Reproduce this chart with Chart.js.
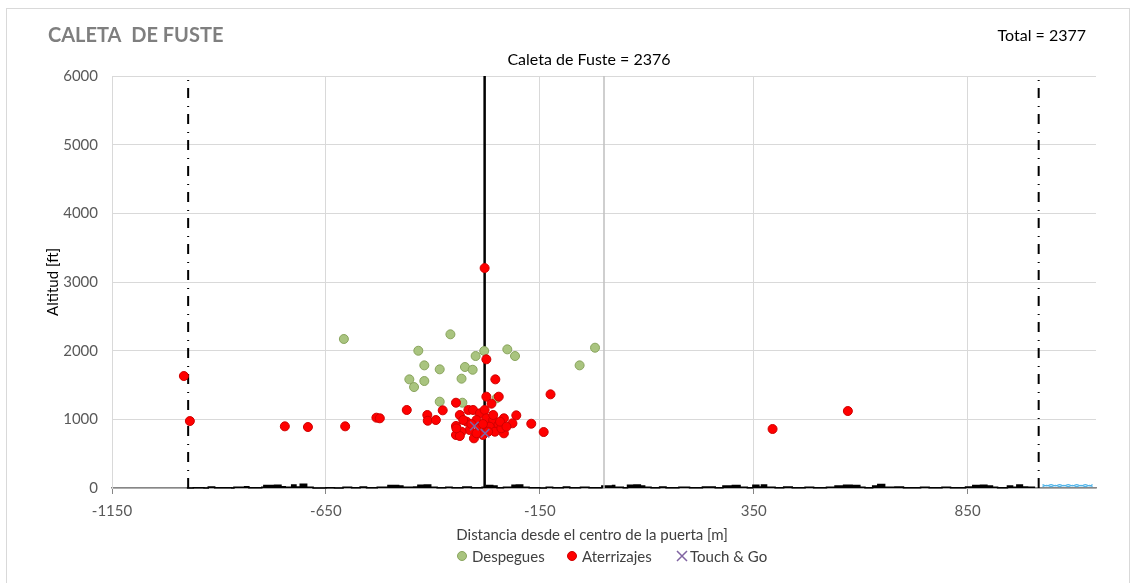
<!DOCTYPE html>
<html>
<head>
<meta charset="utf-8">
<script src="https://cdn.jsdelivr.net/npm/chart.js@4.4.1/dist/chart.umd.min.js"></script>
<style>
  html, body { margin: 0; padding: 0; background: #fff; }
  #wrap { width: 1134px; height: 583px; position: relative; }
</style>
</head>
<body>
<div id="wrap"><canvas id="chart" width="1134" height="583"></canvas></div>
<script>
// tick labels
const xTicks = [-1150, -650, -150, 350, 850];
const yTicks = [0, 1000, 2000, 3000, 4000, 5000, 6000];

// despegues (green)
const despeguesX = [-608, -359, -434, -420, -384, -455, -444, -420, -333, -325, -307, -300, -280, -226, -208, -384, -331, -57, -21, -251];
const despeguesY = [2170, 2238, 1999, 1786, 1728, 1582, 1470, 1558, 1592, 1762, 1722, 1922, 1995, 2019, 1922, 1257, 1242, 1786, 2043, 1306];

// aterrizajes (red)
const aterrizajesX = [-982, -968, -746, -692, -605, -532, -461, 394, 570, -279, -275, -254, -125, -275, -246, -263, -346, -377, -413, -524, -412, -393, -205, -214, -170, -141, -234, -234,
  -346, -337, -317, -306, -290, -279, -321, -298, -275, -259, -247, -267, -290, -314, -333, -346, -337, -304, -283, -255, -240, -345, -329, -310, -283, -259, -243, -271, -298, -228];
const aterrizajesY = [1631, 975, 898, 888, 898, 1024, 1136, 859, 1121, 3203, 1874, 1582, 1364, 1330, 1330, 1228, 1242, 1131, 1063, 1015, 980, 990, 1058, 942, 936, 815, 1015, 796,
  903, 1063, 1136, 1136, 1087, 1136, 966, 990, 1015, 990, 917, 893, 869, 845, 820, 772, 757, 723, 772, 820, 869, 869, 990, 932, 932, 1063, 966, 820, 796, 893];

// touch & go
const touchGoX = [-303, -278];
const touchGoY = [903, 796];

// reference lines
const gateLineX = -279;
const centerLineX = 0;
const limitLinesX = [-972, 1016];

// terrain profile
const terrainX = [-975, -960, -935, -925, -910, -870, -865, -840, -830, -800, -795, -770, -755, -745, -730, -720, -710, -695, -680, -650, -630, -610, -590, -570, -555, -530, -505, -480, -470, -445, -435, -420, -405, -390, -370, -355, -330, -310, -285, -275, -260, -250, -235, -215, -205, -190, -175, -150, -135, -120, -95, -80, -55, -35, -5, 20, 25, 45, 55, 70, 85, 95, 110, 130, 145, 175, 200, 230, 260, 278, 300, 318, 335, 348, 362, 368, 380, 400, 420, 440, 470, 490, 520, 540, 560, 580, 598, 610, 628, 640, 656, 680, 700, 740, 760, 790, 810, 845, 862, 880, 895, 908, 920, 943, 955, 965, 978, 990, 1006];
const terrainY = [0, 5, 0, 15, 5, 0, 12, 18, 5, 10, 35, 40, 20, 10, 45, 15, 55, 10, 0, 5, 0, 12, 5, 15, 5, 10, 35, 30, 10, 15, 40, 45, 10, 5, 12, 5, 15, 5, 10, 35, 30, 5, 10, 40, 45, 10, 5, 0, 10, 5, 15, 5, 10, 5, 30, 35, 10, 5, 40, 45, 30, 10, 5, 15, 5, 10, 5, 15, 5, 30, 35, 10, 5, 40, 15, 45, 10, 5, 15, 5, 12, 5, 10, 30, 40, 35, 10, 5, 30, 50, 10, 15, 5, 12, 5, 10, 5, 15, 35, 40, 30, 10, 5, 30, 10, 45, 15, 10, 0];

// water (sea)
const waterX = [1025, 1035, 1045, 1055, 1065, 1075, 1085, 1095, 1105, 1115, 1125, 1135, 1142];
const waterTopY = [50, 30, 50, 30, 50, 30, 50, 30, 50, 30, 50, 30, 50];
const waterLowY = [20, 40, 20, 40, 20, 40, 20, 40, 20, 40, 20, 40, 20];

const pts = (xs, ys) => xs.map((x, i) => ({ x: x, y: ys[i] }));
const vline = x => [{ x: x, y: 0 }, { x: x, y: 6000 }];

Chart.defaults.font.family = 'Lato, "Open Sans", sans-serif';

const textPlugin = {
  id: 'texts',
  beforeDraw(chart) {
    const ctx = chart.ctx;
    ctx.save();
    ctx.fillStyle = '#fff';
    ctx.fillRect(0, 0, chart.width, chart.height);
    ctx.strokeStyle = '#d9d9d9';
    ctx.lineWidth = 1;
    ctx.strokeRect(6.5, 8.5, 1123, 620);
    ctx.restore();
  },
  afterDraw(chart) {
    const ctx = chart.ctx;
    ctx.save();
    ctx.textBaseline = 'middle';
    ctx.fillStyle = '#7f7f7f';
    ctx.font = 'bold 20px Lato, sans-serif';
    ctx.textAlign = 'left';
    ctx.fillText('CALETA  DE FUSTE', 48, 36, 176);
    ctx.fillStyle = '#000';
    ctx.font = '16px Lato, sans-serif';
    ctx.textAlign = 'right';
    ctx.fillText('Total = 2377', 1086, 36);
    ctx.textAlign = 'center';
    ctx.fillText('Caleta de Fuste = 2376', 589, 60);

    // x axis title
    ctx.fillStyle = '#404040';
    ctx.font = '15px Lato, sans-serif';
    ctx.fillText('Distancia desde el centro de la puerta [m]', 592, 535);

    // legend
    const ly = 556;
    ctx.textAlign = 'left';
    const items = chart.data.datasets.slice(0, 3);
    const xs = [462, 572, 682];
    items.forEach((ds, i) => {
      const cx = xs[i];
      ctx.beginPath();
      if (ds.pointStyle === 'crossRot') {
        ctx.strokeStyle = ds.borderColor;
        ctx.lineWidth = 1.5;
        ctx.moveTo(cx - 5, ly - 5); ctx.lineTo(cx + 5, ly + 5);
        ctx.moveTo(cx + 5, ly - 5); ctx.lineTo(cx - 5, ly + 5);
        ctx.stroke();
      } else {
        ctx.arc(cx, ly, 4.5, 0, Math.PI * 2);
        ctx.fillStyle = ds.backgroundColor;
        ctx.fill();
        ctx.strokeStyle = ds.borderColor;
        ctx.lineWidth = 1;
        ctx.stroke();
      }
      ctx.fillStyle = '#404040';
      ctx.fillText(ds.label, cx + (ds.pointStyle === 'crossRot' ? 8 : 10), ly + 1);
    });
    ctx.restore();
  }
};

new Chart(document.getElementById('chart'), {
  type: 'scatter',
  data: {
    datasets: [
      { label: 'Despegues', data: pts(despeguesX, despeguesY), backgroundColor: '#a9c47f', borderColor: '#8aa55e', borderWidth: 1, pointRadius: 4.5, order: 2 },
      { label: 'Aterrizajes', data: pts(aterrizajesX, aterrizajesY), backgroundColor: '#ff0000', borderColor: '#d00000', borderWidth: 1, pointRadius: 4.5, order: 1 },
      { label: 'Touch & Go', data: pts(touchGoX, touchGoY), pointStyle: 'crossRot', backgroundColor: '#8064a2', borderColor: '#8064a2', borderWidth: 1.5, pointRadius: 6, order: 0 },
      { label: 'puerta', data: vline(gateLineX), showLine: true, borderColor: '#000', borderWidth: 2.5, pointRadius: 0, order: 3 },
      { label: 'centro', data: vline(centerLineX), showLine: true, borderColor: '#bfbfbf', borderWidth: 1.5, pointRadius: 0, order: 3 },
      { label: 'limite1', data: vline(limitLinesX[0]), showLine: true, borderColor: '#000', borderWidth: 2, borderDash: [10, 7, 1, 8], pointRadius: 0, order: 3 },
      { label: 'limite2', data: vline(limitLinesX[1]), showLine: true, borderColor: '#000', borderWidth: 2, borderDash: [10, 7, 1, 8], pointRadius: 0, order: 3 },
      { label: 'terreno', data: pts(terrainX, terrainY), showLine: true, stepped: true, fill: 'origin', backgroundColor: '#000', borderColor: '#000', borderWidth: 1.5, pointRadius: 0, clip: 3, order: 4 },
      { label: 'mar1', data: pts(waterX, waterTopY), showLine: true, tension: 0.4, borderColor: '#4fb3e8', borderWidth: 1.2, pointRadius: 0, order: 4 },
      { label: 'mar2', data: pts(waterX, waterLowY), showLine: true, tension: 0.4, borderColor: '#4fb3e8', borderWidth: 1.2, pointRadius: 0, order: 4 }
    ]
  },
  options: {
    responsive: false,
    animation: false,
    layout: { padding: { left: 44, right: 38, top: 76, bottom: 0 } },
    plugins: {
      title: { display: false },
      tooltip: { enabled: false },
      legend: { display: false }
    },
    scales: {
      x: {
        type: 'linear',
        min: -1150,
        max: 1150,
        afterBuildTicks: s => { s.ticks = xTicks.map(v => ({ value: v })); },
        afterFit: s => { s.height = 95; },
        ticks: { color: '#595959', font: { size: 15 }, padding: 8, callback: v => String(v) },
        grid: { color: '#d9d9d9', lineWidth: 1, tickLength: 6, tickColor: '#868686' },
        border: { color: '#868686', width: 1.5 }
      },
      y: {
        min: 0,
        max: 6000,
        afterBuildTicks: s => { s.ticks = yTicks.map(v => ({ value: v })); },
        afterFit: s => { s.width = 68; },
        ticks: { color: '#595959', font: { size: 15 }, padding: 14, callback: v => String(v) },
        grid: { color: '#d9d9d9', lineWidth: 1, drawTicks: false },
        border: { color: '#d9d9d9' },
        title: { display: true, text: 'Altitud [ft]', color: '#000', font: { size: 15 }, padding: 0 }
      }
    }
  },
  plugins: [textPlugin]
});
</script>
</body>
</html>
